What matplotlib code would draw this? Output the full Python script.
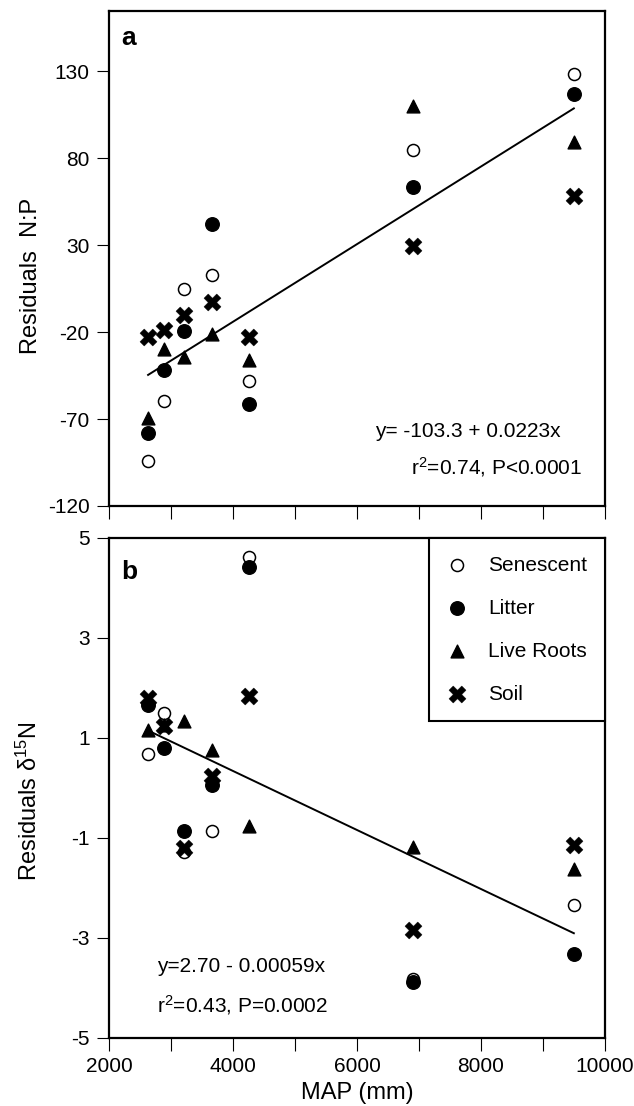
import numpy as np
import matplotlib
matplotlib.use('Agg')
import matplotlib.pyplot as plt

plt.rcParams['font.family'] = ['Liberation Sans', 'DejaVu Sans']
plt.rcParams['mathtext.fontset'] = 'custom'
plt.rcParams['mathtext.rm'] = 'Liberation Sans'
plt.rcParams['mathtext.default'] = 'regular'
plt.rcParams['axes.unicode_minus'] = False

# mean annual precipitation of the sites (mm)
map_mm = [2630, 2890, 3205, 3655, 4260, 6900, 9500]

# residuals N:P
senescent_np = [-94, -59.5, 5, 13, -48, 84.5, 128.5]
litter_np = [-78, -42, -19.5, 42, -61.5, 63.5, 117]
roots_np = [-69.5, -30, -34.5, -21, -36, 110, 89]
soil_np = [-23, -19, -10, -3, -23, 29.5, 58]

# residuals d15N
senescent_dn = [0.67, 1.49, -1.28, -0.87, 4.61, -3.82, -2.35]
litter_dn = [1.65, 0.79, -0.87, 0.05, 4.41, -3.89, -3.32]
roots_dn = [1.15, 1.25, 1.33, 0.75, -0.77, -1.19, -1.63]
soil_dn = [1.80, 1.24, -1.20, 0.23, 1.84, -2.85, -1.14]

# regression coefficients (intercept, slope)
fit_np = (-103.3, 0.0223)
fit_dn = (2.70, -0.00059)

labels = ['Senescent', 'Litter', 'Live Roots', 'Soil']


def draw_points(ax, sen, lit, roo, soi):
    ax.scatter(map_mm, sen, s=75, marker='o', facecolor='white', edgecolor='black', linewidth=1.1, zorder=3, label=labels[0])
    ax.scatter(map_mm, lit, s=95, marker='o', facecolor='black', edgecolor='black', zorder=3, label=labels[1])
    ax.scatter(map_mm, roo, s=85, marker='^', facecolor='black', edgecolor='black', zorder=3, label=labels[2])
    ax.scatter(map_mm, soi, s=150, marker='X', facecolor='black', edgecolor='black', linewidth=0.3, zorder=3, label=labels[3])


def style_axes(ax):
    for sp in ax.spines.values():
        sp.set_linewidth(1.6)
    ax.set_xlim(2000, 10000)
    ax.set_xticks(np.arange(2000, 10001, 2000))
    ax.set_xticks(np.arange(3000, 10000, 2000), minor=True)
    ax.tick_params(which='both', direction='out', length=9, width=0.8, labelsize=15, pad=5)


fig = plt.figure(figsize=(6.34, 11.06), dpi=100)
ax1 = fig.add_axes([0.172, 0.5425, 0.782, 0.4475])
ax2 = fig.add_axes([0.172, 0.0615, 0.782, 0.4521])

xline = np.array([min(map_mm), max(map_mm)])

# panel a
draw_points(ax1, senescent_np, litter_np, roots_np, soil_np)
ax1.plot(xline, fit_np[0] + fit_np[1] * xline, color='black', linewidth=1.4, zorder=2)
style_axes(ax1)
ax1.set_ylim(-120, 164.5)
ax1.set_yticks([-120, -70, -20, 30, 80, 130])
ax1.tick_params(axis='x', labelbottom=False)
ax1.set_ylabel('Residuals  N:P', fontsize=17)
ax1.yaxis.set_label_coords(-0.135, 0.465)
ax1.text(0.025, 0.945, 'a', transform=ax1.transAxes, fontsize=19, fontweight='bold', va='center')
ax1.text(0.536, 0.139, 'y= -103.3 + 0.0223x', transform=ax1.transAxes, fontsize=15)
ax1.text(0.609, 0.065, 'r$^{2}$=0.74, P<0.0001', transform=ax1.transAxes, fontsize=15)

# panel b
draw_points(ax2, senescent_dn, litter_dn, roots_dn, soil_dn)
ax2.plot(xline, fit_dn[0] + fit_dn[1] * xline, color='black', linewidth=1.4, zorder=2)
style_axes(ax2)
ax2.set_ylim(-5, 5)
ax2.set_yticks([-5, -3, -1, 1, 3, 5])
ax2.set_ylabel('Residuals $\\delta^{15}$N', fontsize=17)
ax2.yaxis.set_label_coords(-0.135, 0.474)
ax2.set_xlabel('MAP (mm)', fontsize=17, labelpad=4)
ax2.text(0.025, 0.932, 'b', transform=ax2.transAxes, fontsize=19, fontweight='bold', va='center')
ax2.text(0.097, 0.132, 'y=2.70 - 0.00059x', transform=ax2.transAxes, fontsize=15)
ax2.text(0.097, 0.052, 'r$^{2}$=0.43, P=0.0002', transform=ax2.transAxes, fontsize=15)

leg = ax2.legend(loc='upper right', fontsize=15, frameon=True, fancybox=False, borderaxespad=0,
                 borderpad=0.85, handlelength=1.0, handletextpad=1.0, labelspacing=1.15, scatterpoints=1)
leg.get_frame().set_edgecolor('black')
leg.get_frame().set_linewidth(1.5)
leg.get_frame().set_alpha(1)

plt.savefig('out.png', dpi=100)
